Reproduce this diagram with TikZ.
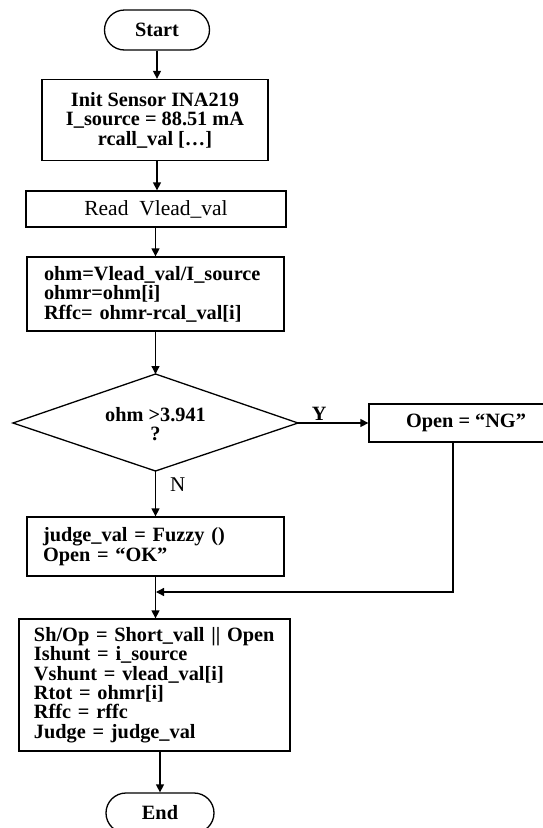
\documentclass[tikz,border=0pt]{standalone}
\usepackage{fontspec}
\setmainfont{Liberation Serif}
\usetikzlibrary{shapes.geometric,arrows.meta}
\begin{document}
\begin{tikzpicture}[x=1pt,y=-1pt,
  every node/.style={font=\fontsize{20.3}{19.4}\selectfont\bfseries, inner sep=0pt},
  box/.style={draw, line width=1.3pt, rectangle},
  term/.style={draw, line width=1.3pt, rectangle, rounded corners=20pt, minimum width=105pt, minimum height=40pt},
  leftbox/.style={box, align=left, text width=#1},
  arr/.style={line width=1.3pt, -{Triangle[length=8pt,width=8pt]}},
  conn/.style={line width=1.3pt}
]
\useasboundingbox (0,0) rectangle (542,828);
\fill[white] (0,0) rectangle (542,828);

\node[term] (start) at (157,30) {Start};
\node[box, minimum width=226pt, minimum height=81pt, align=center] (init) at (155,120)
  {Init Sensor INA219\\I\_source = 88.51 mA\\rcall\_val [\dots]};
\node[box, minimum width=260pt, minimum height=36pt, font=\fontsize{21.5}{21}\selectfont] (read) at (156,209) {Read\ \ Vlead\_val};
\node[leftbox=223pt, minimum width=257pt, minimum height=74pt] (calc) at (155.5,294)
  {ohm=Vlead\_val/I\_source\\ohmr=ohm[i]\\Rffc= ohmr-rcal\_val[i]};
% decision diamond
\coordinate (dt) at (155.5,374);
\coordinate (db) at (155.5,471);
\coordinate (dl) at (13,423);
\coordinate (dr) at (298,423);
\draw[conn, line join=miter] (dt) -- (dr) -- (db) -- (dl) -- cycle;
\node[align=center] (dec) at (155.5,424) {ohm >3.941\\?};
\node[box, minimum width=194pt, minimum height=38pt] (ng) at (466,423) {Open = “NG”};
\node[leftbox=225pt, minimum width=257pt, minimum height=59pt] (judge) at (155.5,546.5)
  {judge\_val = Fuzzy ()\\Open = “OK”};
\node[leftbox=241pt, minimum width=271pt, minimum height=132pt] (final) at (154.5,685)
  {Sh/Op = Short\_vall || Open\\Ishunt = i\_source\\Vshunt = vlead\_val[i]\\Rtot = ohmr[i]\\Rffc = rffc\\Judge = judge\_val};
\node[term, minimum width=108pt] (end) at (160,813) {End};

\coordinate (m) at (453,592);
\coordinate (j) at (156,592);

\draw[arr] (start) -- (start |- init.north);
\draw[arr] (init.south -| start) -- (start |- read.north);
\draw[arr] (read.south -| calc) -- (calc.north);
\draw[arr] (calc.south) -- (dt);
\draw[arr] (dr) -- node[above=2pt, pos=0.3]{Y} (ng.west);
\draw[arr] (db) -- node[right=14pt, pos=0.3, font=\fontsize{21}{21}\selectfont]{N} (judge.north);
\draw[arr] (judge.south) -- (judge.south |- final.north);
\draw[arr] (ng.south -| m) -- (m) -- (j);
\draw[arr] (final.south -| end) -- (end.north);
\end{tikzpicture}
\end{document}
